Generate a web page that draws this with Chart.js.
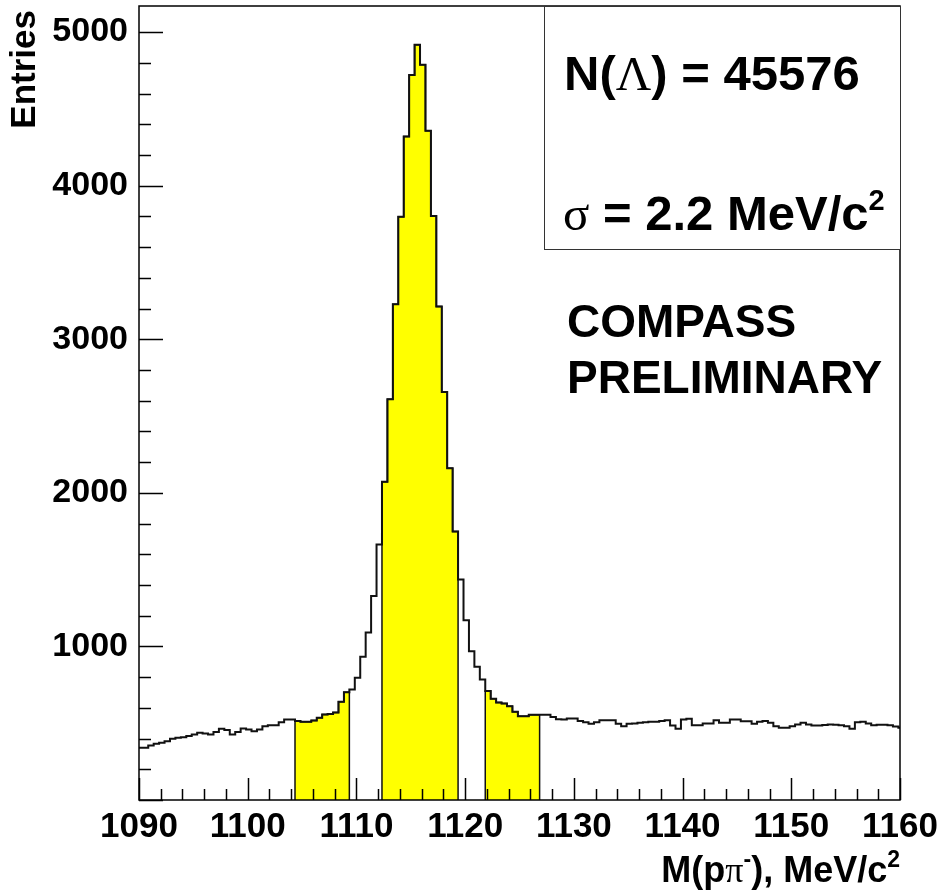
<!DOCTYPE html>
<html>
<head>
<meta charset="utf-8">
<script src="https://cdn.jsdelivr.net/npm/chart.js@4"></script>
<style>
  html, body { margin: 0; padding: 0; background: #fff; }
  #chartCanvas { display: block; }
</style>
</head>
<body>
<canvas id="chartCanvas" width="941" height="890"></canvas>
<script>
// Histogram binning (MeV/c^2)
var binStart = 1089.85;
var binWidth = 0.5;

// Entries per bin
var counts = [
  340, 340, 355, 366, 372, 383, 399, 405, 409, 416,
  427, 438, 433, 427, 442, 464, 455, 427, 442, 466,
  459, 448, 459, 481, 487, 487, 507, 524, 524, 515,
  509, 510, 518, 535, 556, 560, 570, 640, 702, 720,
  796, 933, 1090, 1328, 1664, 2073, 2609, 3228, 3797, 4320,
  4720, 4917, 4787, 4357, 3803, 3213, 2657, 2160, 1748, 1436,
  1170, 969, 868, 785, 709, 660, 635, 628, 611, 575,
  546, 546, 555, 555, 555, 555, 540, 525, 524, 531,
  531, 515, 507, 496, 507, 520, 520, 520, 496, 481,
  496, 498, 503, 507, 509, 509, 515, 520, 485, 464,
  524, 529, 487, 487, 498, 498, 520, 503, 503, 524,
  524, 513, 513, 496, 509, 515, 503, 481, 470, 470,
  481, 492, 503, 492, 485, 485, 488, 492, 490, 487,
  481, 464, 507, 509, 498, 487, 490, 490, 487, 478,
  470
];

// Bin index ranges (inclusive) filled in yellow: sideband, signal, sideband
var yellowBins = [[29, 38], [45, 58], [64, 73]];

// Axis ranges and tick labels
var xMin = 1090, xMax = 1160, xMajor = 10, xMinor = 2;
var yMin = 0, yMax = 5170, yMajor = 1000, yMinor = 200;
var yLabels = [1000, 2000, 3000, 4000, 5000];

var SANS = '"Liberation Sans", Arial, Helvetica, sans-serif';
var SERIF = '"Liberation Serif", "Times New Roman", serif';

// Histogram outline points (left edges + closing right edge)
var histPoints = counts.map(function (c, i) {
  return { x: binStart + i * binWidth, y: c };
});
histPoints.push({ x: binStart + counts.length * binWidth, y: counts[counts.length - 1] });

// Yellow filled pieces, closed down to zero at both ends
function yellowPoints(r) {
  var pts = [{ x: binStart + r[0] * binWidth, y: 0 }];
  for (var i = r[0]; i <= r[1]; i++) {
    pts.push({ x: binStart + i * binWidth, y: counts[i] });
  }
  pts.push({ x: binStart + (r[1] + 1) * binWidth, y: counts[r[1]] });
  pts.push({ x: binStart + (r[1] + 1) * binWidth, y: 0 });
  return pts;
}

var datasets = [{
  label: 'M(p\u03c0\u207b)',
  data: histPoints,
  stepped: true,
  borderColor: '#111',
  borderWidth: 2,
  pointRadius: 0,
  fill: false,
  order: 0
}];
yellowBins.forEach(function (r) {
  datasets.push({
    label: 'cut',
    data: yellowPoints(r),
    stepped: true,
    borderColor: '#111',
    borderWidth: 1.5,
    backgroundColor: '#ffff00',
    pointRadius: 0,
    fill: 'origin',
    order: 1
  });
});

// draw a run of text pieces with different fonts / superscripts
function drawRuns(ctx, x, y, runs, align) {
  var total = 0;
  runs.forEach(function (r) { ctx.font = r.f; total += ctx.measureText(r.t).width; });
  var cx = align === 'right' ? x - total : x;
  ctx.textAlign = 'left';
  ctx.textBaseline = 'alphabetic';
  runs.forEach(function (r) {
    ctx.font = r.f;
    ctx.fillText(r.t, cx, y + (r.dy || 0));
    cx += ctx.measureText(r.t).width;
  });
}

var frameAndText = {
  id: 'frameAndText',
  afterDraw: function (chart) {
    var ctx = chart.ctx, a = chart.chartArea, xs = chart.scales.x, ys = chart.scales.y;
    ctx.save();
    // frame
    ctx.strokeStyle = '#000';
    ctx.lineWidth = 1.5;
    ctx.strokeRect(a.left, a.top, a.right - a.left, a.bottom - a.top);
    // inward ticks
    ctx.beginPath();
    for (var v = xMin; v <= xMax; v += xMinor) {
      var px = Math.round(xs.getPixelForValue(v)) + 0.5;
      var len = (v - xMin) % xMajor === 0 ? 22 : 11;
      ctx.moveTo(px, a.bottom);
      ctx.lineTo(px, a.bottom - len);
    }
    for (var w = yMin; w <= yMax; w += yMinor) {
      var py = Math.round(ys.getPixelForValue(w)) + 0.5;
      var ylen = w % yMajor === 0 ? 24 : 12;
      ctx.moveTo(a.left, py);
      ctx.lineTo(a.left + ylen, py);
    }
    ctx.lineWidth = 1.5;
    ctx.stroke();

    // stats box
    ctx.fillStyle = '#fff';
    ctx.fillRect(544, 7, 357, 243);
    ctx.strokeStyle = '#333';
    ctx.lineWidth = 1;
    ctx.strokeRect(544.5, 6.5, 356, 243);

    ctx.fillStyle = '#000';
    drawRuns(ctx, 564, 90, [
      { t: 'N(', f: 'bold 49px ' + SANS },
      { t: '\u039b', f: '49px ' + SERIF },
      { t: ') = 45576', f: 'bold 49px ' + SANS }
    ]);
    drawRuns(ctx, 563, 230, [
      { t: '\u03c3', f: '49px ' + SERIF },
      { t: ' = 2.2 MeV/c', f: 'bold 49px ' + SANS },
      { t: '2', f: 'bold 29px ' + SANS, dy: -20 }
    ]);
    drawRuns(ctx, 567, 337, [{ t: 'COMPASS', f: 'bold 46px ' + SANS }]);
    drawRuns(ctx, 567, 393, [{ t: 'PRELIMINARY', f: 'bold 46px ' + SANS }]);

    // x axis title
    drawRuns(ctx, a.right, 882, [
      { t: 'M(p', f: 'bold 36px ' + SANS },
      { t: '\u03c0', f: '36px ' + SERIF },
      { t: '-', f: 'bold 23px ' + SANS, dy: -15 },
      { t: '), MeV/c', f: 'bold 36px ' + SANS },
      { t: '2', f: 'bold 23px ' + SANS, dy: -15 }
    ], 'right');

    // y axis title, rotated, ending at the top
    ctx.save();
    ctx.translate(35, 10);
    ctx.rotate(-Math.PI / 2);
    ctx.font = 'bold 35px ' + SANS;
    ctx.textAlign = 'right';
    ctx.textBaseline = 'alphabetic';
    ctx.fillText('Entries', 0, 0);
    ctx.restore();
    ctx.restore();
  }
};

var ctx = document.getElementById('chartCanvas').getContext('2d');

var chart = new Chart(ctx, {
  type: 'line',
  data: { datasets: datasets },
  options: {
    responsive: false,
    animation: false,
    layout: { padding: { top: 6, right: 41, left: 0, bottom: 0 } },
    plugins: {
      legend: { display: false },
      tooltip: { enabled: false }
    },
    scales: {
      x: {
        type: 'linear',
        min: xMin,
        max: xMax,
        grid: { display: false, drawTicks: false },
        border: { display: false },
        ticks: {
          stepSize: xMajor,
          autoSkip: false,
          maxRotation: 0,
          padding: 6,
          color: '#000',
          font: { family: SANS, weight: 'bold', size: 35 },
          callback: function (v) { return String(v); }
        },
        afterFit: function (s) {
          s.height = 90;
          s.paddingLeft = 0;
          s.paddingRight = 0;
        }
      },
      y: {
        type: 'linear',
        min: yMin,
        max: yMax,
        grid: { display: false, drawTicks: false },
        border: { display: false },
        ticks: {
          padding: 11,
          color: '#000',
          font: { family: SANS, weight: 'bold', size: 34 },
          callback: function (v) { return String(v); }
        },
        afterBuildTicks: function (s) {
          s.ticks = yLabels.map(function (v) { return { value: v }; });
        },
        afterFit: function (s) {
          s.width = 139;
          s.paddingTop = 0;
          s.paddingBottom = 0;
        }
      }
    }
  },
  plugins: [frameAndText]
});
</script>
</body>
</html>
